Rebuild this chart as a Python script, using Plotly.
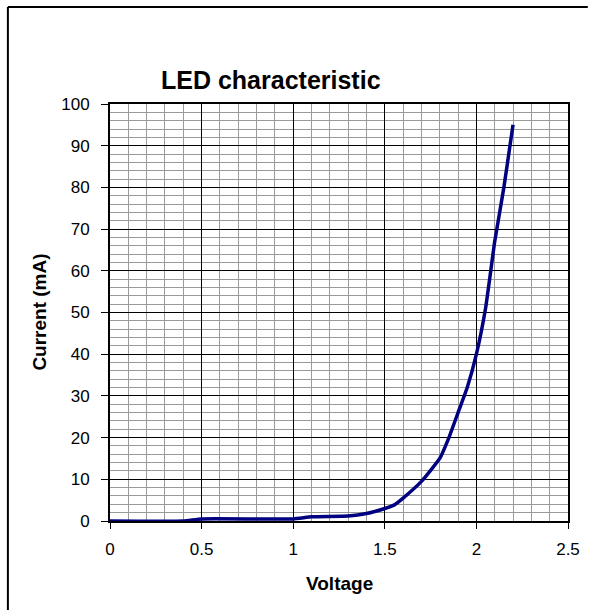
import plotly.graph_objects as go

voltage = [0.0, 0.4, 0.5, 1.0, 1.1, 1.3, 1.4, 1.5, 1.55, 1.6, 1.7, 1.8, 1.85, 1.9, 1.95, 2.0, 2.05, 2.1, 2.15, 2.18, 2.2]
current = [0.0, 0.0, 0.5, 0.5, 1.0, 1.2, 1.8, 3.0, 3.8, 5.5, 9.5, 15.0, 20.0, 26.0, 32.0, 40.0, 51.0, 67.0, 80.0, 89.0, 95.0]

x_ticks = [0, 0.5, 1, 1.5, 2, 2.5]
x_tick_labels = ["0", "0.5", "1", "1.5", "2", "2.5"]
y_ticks = list(range(0, 101, 10))

title_text = "LED characteristic"
x_title = "Voltage"
y_title = "Current (mA)"

FONT = "Liberation Sans, Arial, sans-serif"

fig = go.Figure()
fig.add_trace(go.Scatter(
    x=voltage, y=current, mode="lines",
    line=dict(color="#000080", width=3.5, shape="spline", smoothing=0.4),
    hoverinfo="x+y", showlegend=False,
))

W, H = 592, 610
L, R, T, B = 110, 20, 104, 89
pw, ph = W - L - R, H - T - B

def px_to_paper(px, py):
    return (px - L) / pw, (H - B - py) / ph

fig.update_layout(
    width=W, height=H,
    margin=dict(l=L, r=R, t=T, b=B, pad=0),
    paper_bgcolor="white", plot_bgcolor="white",
    font=dict(family=FONT, size=17, color="black"),
    showlegend=False,
)

fig.update_xaxes(
    range=[0, 2.5], tickvals=x_ticks, ticktext=x_tick_labels,
    showgrid=True, gridcolor="black", gridwidth=1,
    minor=dict(dtick=0.1, tick0=0, showgrid=True, gridcolor="#9a9a9a", gridwidth=1, ticklen=0),
    showline=True, linecolor="black", linewidth=2, mirror=True,
    ticks="outside", ticklen=6, tickcolor="black", tickwidth=1,
    zeroline=False, tickfont=dict(size=17, color="black"),
    ticklabelstandoff=6,
)
fig.update_yaxes(
    range=[0, 100], tickvals=y_ticks,
    showgrid=True, gridcolor="black", gridwidth=1,
    minor=dict(dtick=2, tick0=0, showgrid=True, gridcolor="#9a9a9a", gridwidth=1, ticklen=0),
    showline=True, linecolor="black", linewidth=2, mirror=True,
    ticks="outside", ticklen=7, tickcolor="black", tickwidth=1,
    zeroline=False, tickfont=dict(size=17, color="black"),
    ticklabelstandoff=8,
)

tx, ty = px_to_paper(272, 80)
vx, vy = px_to_paper(341, 583)
cx, cy = px_to_paper(38, 312)

fig.add_annotation(text="<b>" + title_text + "</b>", x=tx, y=ty, xref="paper", yref="paper",
                   showarrow=False, xanchor="center", yanchor="middle",
                   font=dict(family=FONT, size=25, color="black"))
fig.add_annotation(text="<b>" + x_title + "</b>", x=vx, y=vy, xref="paper", yref="paper",
                   showarrow=False, xanchor="center", yanchor="middle",
                   font=dict(family=FONT, size=19, color="black"))
fig.add_annotation(text="<b>" + y_title + "</b>", x=cx, y=cy, xref="paper", yref="paper",
                   showarrow=False, xanchor="center", yanchor="middle", textangle=-90,
                   font=dict(family=FONT, size=19, color="black"))

# outer chart frame (only top and left edges visible in the reference)
fx0, fy0 = px_to_paper(7, 7)
fx1, fy1 = px_to_paper(W, H)
fig.add_shape(type="line", xref="paper", yref="paper", x0=fx0, y0=fy0, x1=fx1, y1=fy0,
              line=dict(color="black", width=2), layer="above")
fig.add_shape(type="line", xref="paper", yref="paper", x0=fx0, y0=fy0, x1=fx0, y1=fy1,
              line=dict(color="black", width=2), layer="above")

fig.write_html("out.html", config={"displayModeBar": False},
               post_script="document.body.style.margin='0';document.body.style.overflow='hidden';")
